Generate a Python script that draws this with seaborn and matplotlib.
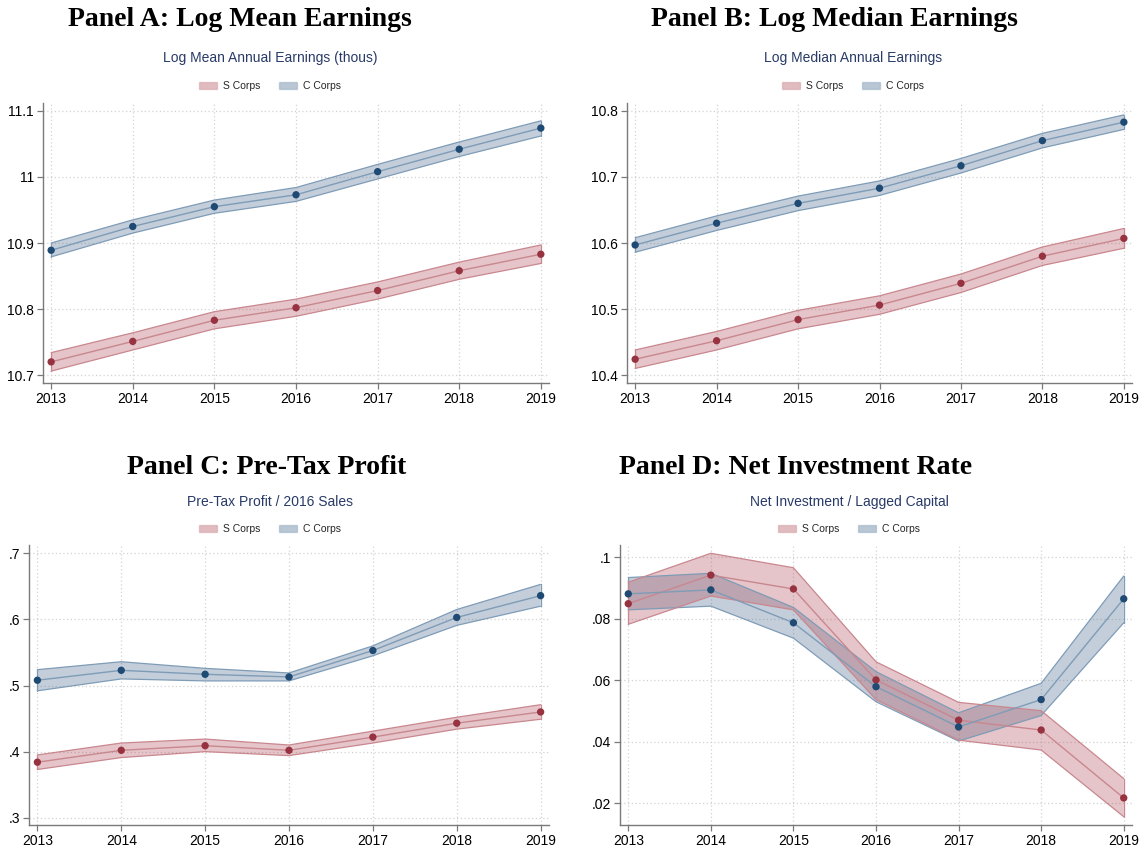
import matplotlib
matplotlib.use("Agg")
import numpy as np
import pandas as pd
import matplotlib.pyplot as plt
import seaborn as sns
from matplotlib.patches import Patch

years = [2013, 2014, 2015, 2016, 2017, 2018, 2019]

# Panel A: log mean annual earnings
a_s = [10.720, 10.751, 10.783, 10.802, 10.828, 10.858, 10.883]
a_s_lo = [10.706, 10.738, 10.770, 10.789, 10.815, 10.845, 10.869]
a_s_hi = [10.734, 10.764, 10.796, 10.815, 10.841, 10.871, 10.897]
a_c = [10.889, 10.925, 10.955, 10.973, 11.008, 11.042, 11.074]
a_c_lo = [10.879, 10.915, 10.945, 10.963, 10.997, 11.031, 11.062]
a_c_hi = [10.900, 10.935, 10.965, 10.984, 11.019, 11.053, 11.085]

# Panel B: log median annual earnings
b_s = [10.424, 10.452, 10.484, 10.506, 10.539, 10.580, 10.607]
b_s_lo = [10.410, 10.438, 10.470, 10.492, 10.525, 10.566, 10.592]
b_s_hi = [10.438, 10.466, 10.498, 10.520, 10.553, 10.594, 10.622]
b_c = [10.597, 10.630, 10.660, 10.683, 10.717, 10.755, 10.783]
b_c_lo = [10.586, 10.619, 10.649, 10.672, 10.706, 10.744, 10.772]
b_c_hi = [10.608, 10.641, 10.671, 10.694, 10.728, 10.766, 10.794]

# Panel C: pre-tax profit / 2016 sales
c_s = [0.384, 0.402, 0.409, 0.402, 0.422, 0.443, 0.460]
c_s_lo = [0.373, 0.391, 0.400, 0.394, 0.413, 0.434, 0.449]
c_s_hi = [0.395, 0.413, 0.419, 0.410, 0.431, 0.452, 0.471]
c_c = [0.508, 0.523, 0.517, 0.513, 0.553, 0.603, 0.636]
c_c_lo = [0.492, 0.510, 0.507, 0.507, 0.545, 0.591, 0.620]
c_c_hi = [0.524, 0.536, 0.526, 0.519, 0.560, 0.615, 0.653]

# Panel D: net investment / lagged capital
d_s = [0.0849, 0.0942, 0.0897, 0.0601, 0.0470, 0.0438, 0.0217]
d_s_lo = [0.0782, 0.0874, 0.0829, 0.0537, 0.0405, 0.0373, 0.0156]
d_s_hi = [0.0919, 0.1013, 0.0966, 0.0660, 0.0528, 0.0501, 0.0280]
d_c = [0.0881, 0.0894, 0.0787, 0.0579, 0.0448, 0.0537, 0.0865]
d_c_lo = [0.0829, 0.0841, 0.0737, 0.0530, 0.0402, 0.0485, 0.0787]
d_c_hi = [0.0934, 0.0948, 0.0837, 0.0628, 0.0494, 0.0590, 0.0939]

a_ticks = [10.7, 10.8, 10.9, 11.0, 11.1]
a_labels = ['10.7', '10.8', '10.9', '11', '11.1']
b_ticks = [10.4, 10.5, 10.6, 10.7, 10.8]
b_labels = ['10.4', '10.5', '10.6', '10.7', '10.8']
c_ticks = [0.3, 0.4, 0.5, 0.6, 0.7]
c_labels = ['.3', '.4', '.5', '.6', '.7']
d_ticks = [0.02, 0.04, 0.06, 0.08, 0.10]
d_labels = ['.02', '.04', '.06', '.08', '.1']

S_DOT, S_LINE, S_FILL = '#973340', '#c9878f', '#b04f5c'
C_DOT, C_LINE, C_FILL = '#1e4a73', '#7f9cb7', '#496d90'
FILL_ALPHA = 0.33

sns.set_theme(style="white")
plt.rcParams['font.family'] = ['Liberation Sans', 'DejaVu Sans']


def draw_panel(ax, s, s_lo, s_hi, c, c_lo, c_hi, ticks, labels, ylim):
    df = pd.DataFrame({
        'year': years * 2,
        'value': s + c,
        'group': ['S Corps'] * 7 + ['C Corps'] * 7,
    })
    # C band first, S band over it (gives the mauve overlap)
    ax.fill_between(years, c_lo, c_hi, facecolor=C_FILL, alpha=FILL_ALPHA,
                    edgecolor='none', zorder=2)
    ax.fill_between(years, s_lo, s_hi, facecolor=S_FILL, alpha=FILL_ALPHA,
                    edgecolor='none', zorder=2)
    for lo, hi, col in [(c_lo, c_hi, C_LINE), (s_lo, s_hi, S_LINE)]:
        ax.plot(years, lo, color=col, lw=0.9, zorder=3)
        ax.plot(years, hi, color=col, lw=0.9, zorder=3)
        ax.plot([years[0], years[0]], [lo[0], hi[0]], color=col, lw=0.9, zorder=3)
        ax.plot([years[-1], years[-1]], [lo[-1], hi[-1]], color=col, lw=0.9, zorder=3)
    sns.lineplot(data=df, x='year', y='value', hue='group',
                 palette={'S Corps': S_LINE, 'C Corps': C_LINE},
                 linewidth=1.0, legend=False, ax=ax, zorder=4)
    sns.scatterplot(data=df, x='year', y='value', hue='group',
                    palette={'S Corps': S_DOT, 'C Corps': C_DOT},
                    s=28, edgecolor='none', legend=False, ax=ax, zorder=5)
    ax.set_xlim(2012.9, 2019.1)
    ax.set_ylim(*ylim)
    ax.set_xticks(years)
    ax.set_xticklabels([str(y) for y in years])
    ax.set_yticks(ticks)
    ax.set_yticklabels(labels)
    ax.set_xlabel('')
    ax.set_ylabel('')
    ax.grid(True, linestyle=(0, (1, 2)), color='#d2d2d2', linewidth=0.9)
    ax.set_axisbelow(True)
    for side in ['top', 'right']:
        ax.spines[side].set_visible(False)
    for side in ['left', 'bottom']:
        ax.spines[side].set_color('#7a7a7a')
        ax.spines[side].set_linewidth(1.0)
    ax.tick_params(axis='both', which='major', direction='out', length=4.5,
                   width=0.9, color='#7a7a7a', labelsize=10, labelcolor='black',
                   bottom=True, left=True, pad=2)


W, H = 1144, 847
fig = plt.figure(figsize=(W / 100, H / 100), dpi=100)


def rect(l, r, t, b):
    return [l / W, 1 - b / H, (r - l) / W, (b - t) / H]


ax_a = fig.add_axes(rect(43, 549, 103, 383))
ax_b = fig.add_axes(rect(627, 1132, 103, 383))
ax_c = fig.add_axes(rect(29, 549, 545, 825))
ax_d = fig.add_axes(rect(620, 1132, 545, 825))

draw_panel(ax_a, a_s, a_s_lo, a_s_hi, a_c, a_c_lo, a_c_hi, a_ticks, a_labels, (10.688, 11.112))
draw_panel(ax_b, b_s, b_s_lo, b_s_hi, b_c, b_c_lo, b_c_hi, b_ticks, b_labels, (10.388, 10.812))
draw_panel(ax_c, c_s, c_s_lo, c_s_hi, c_c, c_c_lo, c_c_hi, c_ticks, c_labels, (0.289, 0.7126))
draw_panel(ax_d, d_s, d_s_lo, d_s_hi, d_c, d_c_lo, d_c_hi, d_ticks, d_labels, (0.0129, 0.104))

titles = [
    ('Panel A: Log Mean Earnings', 240, 19),
    ('Panel B: Log Median Earnings', 834, 19),
    ('Panel C: Pre-Tax Profit', 267, 467),
    ('Panel D: Net Investment Rate', 796, 467),
]
for txt, x, y in titles:
    fig.text(x / W, 1 - y / H, txt, ha='center', va='center',
             fontsize=20, fontweight='bold', family=['Liberation Serif', 'DejaVu Serif'],
             color='black')

subtitles = [
    ('Log Mean Annual Earnings (thous)', 270, 58),
    ('Log Median Annual Earnings', 853, 58),
    ('Pre-Tax Profit / 2016 Sales', 270, 502),
    ('Net Investment / Lagged Capital', 849, 502),
]
for txt, x, y in subtitles:
    fig.text(x / W, 1 - y / H, txt, ha='center', va='center',
             fontsize=10, color='#283a68')

handles = [
    Patch(facecolor=S_FILL, alpha=FILL_ALPHA + 0.05, edgecolor=S_LINE, lw=1.0, label='S Corps'),
    Patch(facecolor=C_FILL, alpha=FILL_ALPHA + 0.05, edgecolor=C_LINE, lw=1.0, label='C Corps'),
]
legend_pos = [(270, 86), (853, 86), (270, 529), (849, 529)]
for x, y in legend_pos:
    fig.legend(handles=handles, loc='center', bbox_to_anchor=(x / W, 1 - y / H),
               ncol=2, frameon=False, fontsize=7.5, handlelength=1.7,
               handleheight=0.7, handletextpad=0.6, columnspacing=1.8,
               borderpad=0)

fig.savefig('out.png', dpi=100)
